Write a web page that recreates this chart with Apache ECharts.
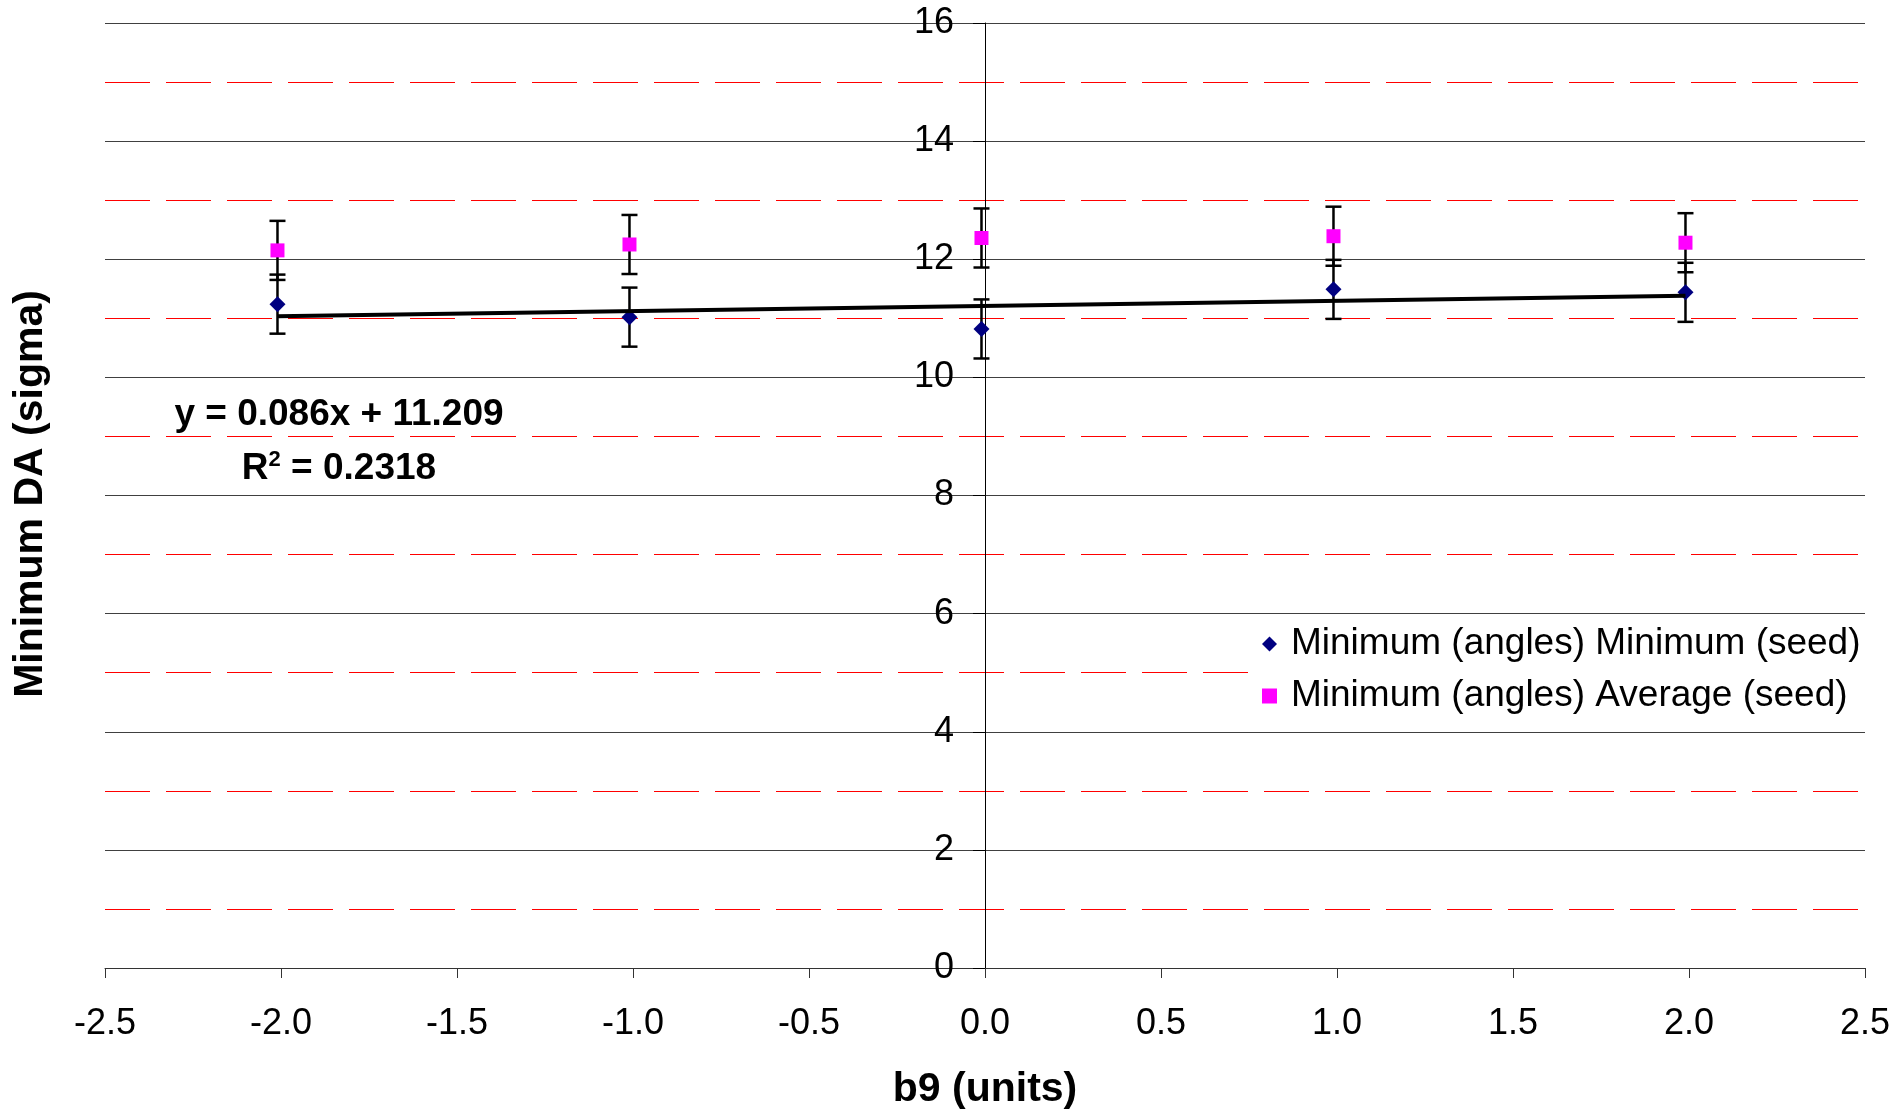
<!DOCTYPE html>
<html>
<head>
<meta charset="utf-8">
<script src="https://cdn.jsdelivr.net/npm/echarts@6/dist/echarts.min.js"></script>
<style>
html, body { margin: 0; padding: 0; background: #fff; }
#chart { width: 1899px; height: 1113px; }
</style>
</head>
<body>
<div id="chart"></div>
<script>
// values
var xValues = [-2.01, -1.01, -0.01, 0.99, 1.99];
var minSeed = [11.24, 11.02, 10.82, 11.49, 11.44];
var avgSeed = [12.15, 12.25, 12.36, 12.39, 12.28];
var minErr = [0.5, 0.5, 0.5, 0.5, 0.5];
var avgErr = [0.5, 0.5, 0.5, 0.5, 0.5];
var seriesNames = ['Minimum (angles) Minimum (seed)', 'Minimum (angles) Average (seed)'];
var xTitle = 'b9 (units)';
var yTitle = 'Minimum DA (sigma)';

// trend line as printed on the chart
var trendSlope = 0.086;
var trendIntercept = 11.209;
var trendText = 'y = 0.086x + 11.209';
var r2Text = '0.2318';

var FONT = '"Liberation Sans", Arial, sans-serif';
var GRID_LEFT = 105, GRID_RIGHT = 34, X_MIN = -2.5, X_MAX = 2.5;

function pairs(ys) {
    return xValues.map(function(x, i) { return [x, ys[i]]; });
}

function errData(ys, errs) {
    return xValues.map(function(x, i) { return [x, ys[i] - errs[i], ys[i] + errs[i]]; });
}

function errorBar(params, api) {
    var x = api.value(0);
    var top = api.coord([x, api.value(2)]);
    var bot = api.coord([x, api.value(1)]);
    var half = 8;
    var style = { stroke: '#000', lineWidth: 2.5 };
    return {
        type: 'group',
        children: [
            { type: 'line', shape: { x1: top[0], y1: top[1], x2: bot[0], y2: bot[1] }, style: style },
            { type: 'line', shape: { x1: top[0] - half, y1: top[1], x2: top[0] + half, y2: top[1] }, style: style },
            { type: 'line', shape: { x1: bot[0] - half, y1: bot[1], x2: bot[0] + half, y2: bot[1] }, style: style }
        ]
    };
}

var xFirst = xValues[0];
var xLast = xValues[xValues.length - 1];
var trendData = [
    [xFirst, trendSlope * xFirst + trendIntercept],
    [xLast, trendSlope * xLast + trendIntercept]
];

// the value axis crosses at x = 0, so shift the y axis inward to that spot
var plotWidth = 1899 - GRID_LEFT - GRID_RIGHT;
var yAxisOffset = -plotWidth * (0 - X_MIN) / (X_MAX - X_MIN);

var chart = echarts.init(document.getElementById('chart'));
var option = {
    animation: false,
    backgroundColor: '#fff',
    textStyle: { fontFamily: FONT },
    grid: { left: GRID_LEFT, right: GRID_RIGHT, top: 23, bottom: 145, containLabel: false, outerBoundsMode: 'none' },
    legend: {
        data: seriesNames,
        orient: 'vertical',
        left: 1253,
        top: 618,
        padding: [6, 0, 11, 9],
        backgroundColor: '#fff',
        itemWidth: 15,
        itemHeight: 15,
        itemGap: 12,
        textStyle: { fontSize: 37, color: '#000', fontFamily: FONT, lineHeight: 40, padding: [0, 0, 0, 9] }
    },
    xAxis: {
        type: 'value',
        min: X_MIN,
        max: X_MAX,
        interval: 0.5,
        name: xTitle,
        nameLocation: 'middle',
        nameGap: 101,
        nameTextStyle: { fontSize: 41, fontWeight: 'bold', color: '#000', fontFamily: FONT },
        axisLine: { lineStyle: { color: '#333', width: 1 } },
        axisTick: { show: true, length: 10, lineStyle: { color: '#333' } },
        axisLabel: {
            margin: 38,
            fontSize: 36,
            color: '#000',
            fontFamily: FONT,
            formatter: function(v) { return v.toFixed(1); }
        },
        splitLine: { show: false }
    },
    yAxis: {
        type: 'value',
        min: 0,
        max: 16,
        interval: 2,
        position: 'left',
        offset: yAxisOffset,
        axisLine: { onZero: false, lineStyle: { color: '#000', width: 1 } },
        axisTick: { show: true, length: 12, lineStyle: { color: '#000' } },
        axisLabel: { margin: 31, fontSize: 36, color: '#000', fontFamily: FONT },
        splitLine: { show: true, lineStyle: { color: '#404040', width: 1 } },
        minorTick: { show: false, splitNumber: 2 },
        minorSplitLine: { show: true, lineStyle: { color: '#ff0000', width: 1, type: [45, 16] } }
    },
    graphic: [
        {
            type: 'text',
            x: 31,
            y: 494,
            rotation: Math.PI / 2,
            z: 10,
            style: {
                text: yTitle,
                font: 'bold 41px ' + FONT,
                fill: '#000',
                align: 'center',
                verticalAlign: 'middle'
            }
        },
        {
            type: 'text',
            x: 339,
            y: 415,
            z: 10,
            style: {
                text: trendText,
                font: 'bold 37px ' + FONT,
                fill: '#000',
                align: 'center',
                verticalAlign: 'middle'
            }
        },
        {
            type: 'text',
            x: 339,
            y: 469,
            z: 10,
            style: {
                text: '{r|R}{s|2}{r| = ' + r2Text + '}',
                fill: '#000',
                align: 'center',
                verticalAlign: 'middle',
                rich: {
                    r: { font: 'bold 37px ' + FONT, fill: '#000', lineHeight: 40 },
                    s: { font: 'bold 22px ' + FONT, fill: '#000', lineHeight: 22, verticalAlign: 'top' }
                }
            }
        }
    ],
    series: [
        {
            name: 'errMin',
            type: 'custom',
            renderItem: errorBar,
            data: errData(minSeed, minErr),
            encode: { x: 0, y: [1, 2] },
            z: 1,
            silent: true
        },
        {
            name: 'errAvg',
            type: 'custom',
            renderItem: errorBar,
            data: errData(avgSeed, avgErr),
            encode: { x: 0, y: [1, 2] },
            z: 1,
            silent: true
        },
        {
            name: seriesNames[0],
            type: 'scatter',
            symbol: 'diamond',
            symbolSize: 16,
            itemStyle: { color: '#000080', opacity: 1 },
            data: pairs(minSeed),
            z: 3
        },
        {
            name: seriesNames[1],
            type: 'scatter',
            symbol: 'rect',
            symbolSize: 14,
            itemStyle: { color: '#ff00ff', opacity: 1 },
            data: pairs(avgSeed),
            z: 3
        },
        {
            name: 'trend',
            type: 'line',
            data: trendData,
            showSymbol: false,
            symbol: 'none',
            lineStyle: { color: '#000', width: 4 },
            z: 4,
            silent: true
        }
    ]
};
chart.setOption(option);
</script>
</body>
</html>
